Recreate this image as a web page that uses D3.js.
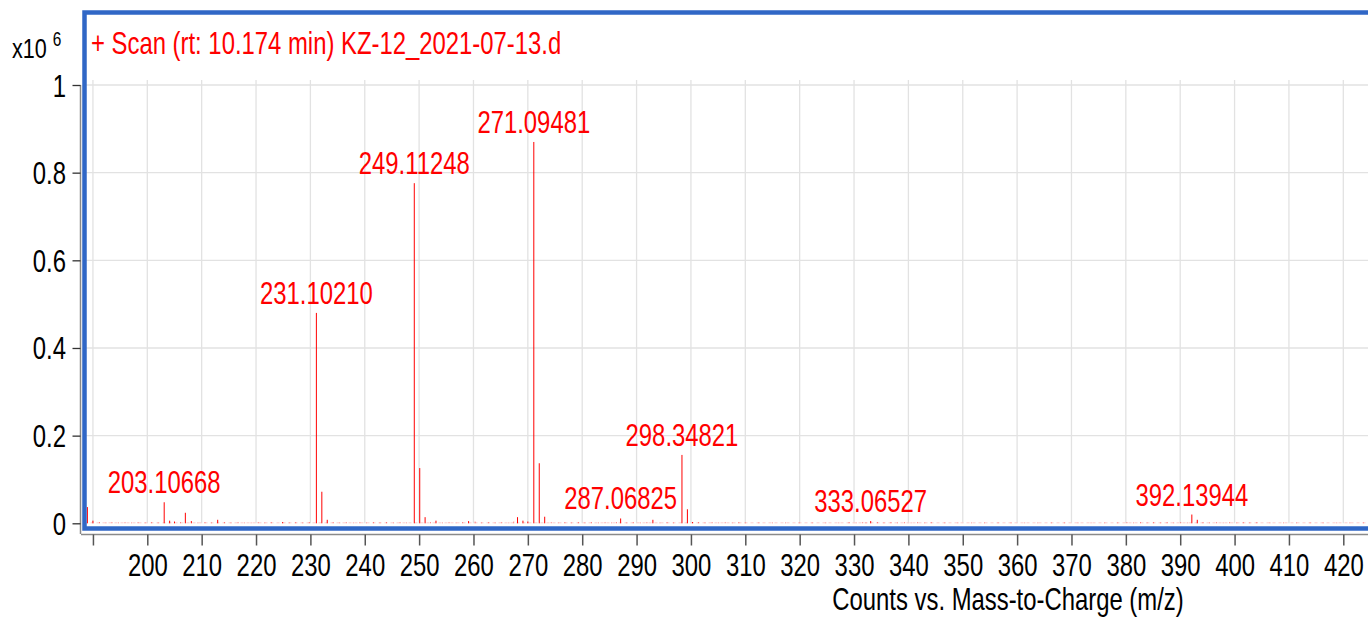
<!DOCTYPE html>
<html>
<head>
<meta charset="utf-8">
<script src="https://cdn.jsdelivr.net/npm/d3@7"></script>
<style>
  html, body { margin: 0; padding: 0; background: #fff; }
  svg { display: block; }
  text { font-family: "Liberation Sans", Arial, sans-serif; }
</style>
</head>
<body>
<svg id="chart" width="1368" height="618"></svg>
<script>
// Mass spectrum: m/z positions and intensities (counts x10^6)
const peakMz = [188.98, 190.0, 203.107, 204.11, 205.0, 207.0, 208.1, 212.95, 224.9,
  231.1021, 232.105, 233.1, 249.11248, 250.115, 251.1, 253.1, 259.1, 268.1, 269.1, 270.0,
  271.09481, 272.098, 273.1, 287.06825, 293.0, 298.34821, 299.35, 300.3, 333.06527,
  392.13944, 393.14];
const peakIntensity = [0.037, 0.006, 0.048, 0.006, 0.004, 0.024, 0.005, 0.008, 0.003,
  0.480, 0.072, 0.008, 0.776, 0.126, 0.014, 0.006, 0.005, 0.014, 0.006, 0.004,
  0.870, 0.137, 0.015, 0.011, 0.008, 0.156, 0.032, 0.003, 0.005,
  0.020, 0.008];

// Low-level baseline signals
const noiseMz = [191.2, 192.4, 193.5, 194.7, 195.9, 197.1, 198.3, 199.6, 200.8, 202.0,
  206.1, 209.3, 210.6, 211.8, 214.2, 215.4, 216.7, 217.9, 219.1, 220.4, 221.6, 222.8,
  226.1, 227.3, 228.6, 229.8, 234.2, 235.4, 236.6, 237.9, 239.1, 240.3, 241.6, 242.8,
  244.0, 245.3, 246.5, 247.7, 252.1, 254.3, 255.5, 256.8, 258.0, 260.3, 261.5, 262.8,
  264.0, 265.2, 266.5, 267.4, 274.3, 275.6, 276.8, 278.0, 279.3, 280.5, 281.7, 283.0,
  284.2, 285.4, 286.3, 288.2, 289.4, 290.7, 291.9, 294.3, 295.6, 296.8, 301.4, 302.6,
  303.9, 305.1, 306.3, 307.6, 308.8, 310.0, 312.5, 315.0, 317.4, 319.9, 322.3, 324.8,
  327.2, 329.1, 330.4, 331.6, 332.2, 334.3, 335.5, 336.8, 338.0, 339.3, 340.5, 341.7,
  343.0, 344.2, 346.7, 349.1, 351.6, 354.0, 356.5, 358.9, 361.4, 363.8, 366.3, 368.7,
  371.2, 373.6, 376.1, 378.5, 380.2, 381.4, 382.7, 383.9, 385.1, 386.4, 387.6, 388.8,
  390.1, 391.3, 394.2, 395.4, 396.7, 397.9, 399.1, 400.4, 401.6, 402.8, 404.1, 406.5,
  409.0, 411.4, 413.9, 416.3, 418.8, 421.2, 423.7];
const noiseIntensity = [0.003, 0.002, 0.003, 0.002, 0.003, 0.002, 0.003, 0.002, 0.003, 0.002,
  0.003, 0.002, 0.003, 0.002, 0.003, 0.002, 0.003, 0.002, 0.002, 0.003, 0.002, 0.003,
  0.002, 0.003, 0.002, 0.003, 0.003, 0.002, 0.003, 0.002, 0.003, 0.002, 0.003, 0.002,
  0.003, 0.002, 0.003, 0.002, 0.003, 0.002, 0.003, 0.002, 0.003, 0.004, 0.002, 0.003,
  0.002, 0.003, 0.002, 0.004, 0.003, 0.002, 0.003, 0.002, 0.003, 0.002, 0.003, 0.002,
  0.003, 0.002, 0.003, 0.002, 0.003, 0.002, 0.003, 0.002, 0.003, 0.002, 0.003, 0.002,
  0.003, 0.002, 0.003, 0.002, 0.003, 0.002, 0.002, 0.002, 0.002, 0.002, 0.002, 0.002,
  0.002, 0.003, 0.002, 0.003, 0.002, 0.003, 0.002, 0.003, 0.002, 0.003, 0.002, 0.003,
  0.002, 0.003, 0.002, 0.002, 0.002, 0.002, 0.002, 0.002, 0.002, 0.002, 0.002, 0.002,
  0.002, 0.002, 0.002, 0.002, 0.003, 0.002, 0.003, 0.002, 0.003, 0.002, 0.003, 0.002,
  0.003, 0.002, 0.003, 0.002, 0.003, 0.002, 0.003, 0.002, 0.003, 0.002, 0.003, 0.002,
  0.002, 0.002, 0.002, 0.002, 0.002, 0.002, 0.002];

// Annotated peaks
const labelMz = [203.10668, 231.10210, 249.11248, 271.09481, 287.06825, 298.34821, 333.06527, 392.13944];
const labelText = ["203.10668", "231.10210", "249.11248", "271.09481", "287.06825", "298.34821", "333.06527", "392.13944"];

const xTickValues = [190, 200, 210, 220, 230, 240, 250, 260, 270, 280, 290, 300, 310, 320,
  330, 340, 350, 360, 370, 380, 390, 400, 410, 420];
const yTickValues = [0, 0.2, 0.4, 0.6, 0.8, 1];
const yTickLabels = ["0", "0.2", "0.4", "0.6", "0.8", "1"];

const titleText = "+ Scan (rt: 10.174 min) KZ-12_2021-07-13.d";
const xAxisTitle = "Counts vs. Mass-to-Charge (m/z)";

// Condensed lettering: regular sans squeezed horizontally
const FS = 31, SX = 0.77;

const svg = d3.select("#chart");
const W = 1368;

const x = d3.scaleLinear().domain([200, 420]).range([147.3, 1343.3]);
const y = d3.scaleLinear().domain([0, 1]).range([523.3, 85]);

const plotLeft = 84.5, plotTop = 12.5, plotBottom = 528.5;

function squeezed(sel, px, py) {
  return sel.attr("x", 0).attr("y", 0)
    .attr("transform", `translate(${px},${py}) scale(${SX},1)`);
}

svg.append("defs").append("clipPath").attr("id", "plotClip")
  .append("rect").attr("x", plotLeft).attr("y", plotTop).attr("width", W - plotLeft + 10).attr("height", plotBottom - plotTop);

// grid
const grid = svg.append("g").attr("clip-path", "url(#plotClip)");
grid.selectAll("line.vg").data(xTickValues).join("line")
  .attr("x1", d => x(d)).attr("x2", d => x(d))
  .attr("y1", 80).attr("y2", y(0))
  .attr("stroke", "#e2e2e2").attr("stroke-width", 1.3);
grid.selectAll("line.hg").data(yTickValues.filter(d => d > 0)).join("line")
  .attr("x1", plotLeft).attr("x2", W + 10)
  .attr("y1", d => y(d)).attr("y2", d => y(d))
  .attr("stroke", "#e2e2e2").attr("stroke-width", 1.3);

// spectrum sticks
const sticks = svg.append("g").attr("clip-path", "url(#plotClip)");
sticks.append("line")
  .attr("x1", plotLeft).attr("x2", W + 10).attr("y1", y(0) - 0.5).attr("y2", y(0) - 0.5)
  .attr("stroke", "#ffcfcf").attr("stroke-width", 1).attr("stroke-dasharray", "3,3");
sticks.selectAll("line.noise").data(noiseMz.map((m, i) => [m, noiseIntensity[i]])).join("line")
  .attr("x1", d => x(d[0])).attr("x2", d => x(d[0]))
  .attr("y1", y(0)).attr("y2", d => y(d[1]))
  .attr("stroke", "#ff0000").attr("stroke-opacity", 0.45).attr("stroke-width", 1);
sticks.selectAll("line.peak").data(peakMz.map((m, i) => [m, peakIntensity[i]])).join("line")
  .attr("x1", d => x(d[0])).attr("x2", d => x(d[0]))
  .attr("y1", y(0)).attr("y2", d => y(d[1]))
  .attr("stroke", "#ff0000").attr("stroke-width", 1);

// peak labels
const labelData = labelMz.map((m, i) => {
  const j = peakMz.findIndex(p => Math.abs(p - m) < 0.01);
  return { mz: m, text: labelText[i], v: peakIntensity[j] };
});
svg.append("g").selectAll("text").data(labelData).join("text")
  .each(function (d) { squeezed(d3.select(this), x(d.mz), y(d.v) - 9); })
  .attr("text-anchor", "middle")
  .attr("fill", "#ff0000").attr("font-size", FS)
  .text(d => d.text);

// frame
svg.append("rect")
  .attr("x", plotLeft).attr("y", plotTop)
  .attr("width", W + 20 - plotLeft).attr("height", plotBottom - plotTop)
  .attr("fill", "none").attr("stroke", "#3067c6").attr("stroke-width", 4.5);

// title
squeezed(svg.append("text"), 91, 54)
  .attr("fill", "#ff0000").attr("font-size", FS).text(titleText);

// x axis
const xAxis = d3.axisBottom(x).tickValues(xTickValues)
  .tickFormat(d => d === 190 ? "" : d3.format("d")(d))
  .tickSizeInner(11).tickSizeOuter(0).tickPadding(8);
const gx = svg.append("g").attr("transform", "translate(0,534.5)").call(xAxis);
gx.select(".domain").attr("d", `M81,0H${W}`).attr("stroke", "#8a8a8a").attr("stroke-width", 1.5);
gx.selectAll(".tick line").attr("stroke", "#555").attr("stroke-width", 1.5);
gx.selectAll(".tick text").attr("font-size", FS).attr("fill", "#000")
  .attr("font-family", null).attr("dy", null)
  .attr("y", 41.5).attr("transform", `scale(${SX},1)`);

// y axis
const yAxis = d3.axisLeft(y).tickValues(yTickValues)
  .tickFormat((d, i) => yTickLabels[i])
  .tickSizeInner(8).tickSizeOuter(0).tickPadding(5);
const gy = svg.append("g").attr("transform", "translate(80.5,0)").call(yAxis);
gy.select(".domain").attr("d", `M0,${y(1)}V534`).attr("stroke", "#8a8a8a").attr("stroke-width", 1.5);
gy.selectAll(".tick line").attr("stroke", "#333").attr("stroke-width", 1.3);
gy.selectAll(".tick text").attr("font-size", FS).attr("fill", "#000")
  .attr("font-family", null).attr("dy", null)
  .attr("x", -14.5 / SX).attr("y", 11).attr("transform", `scale(${SX},1)`);

// multiplier
const mult = squeezed(svg.append("text"), 12, 58).attr("font-size", 28).attr("fill", "#000");
mult.append("tspan").text("x10 ");
mult.append("tspan").attr("font-size", 20).attr("dy", -12).text("6");

// x axis title
squeezed(svg.append("text"), 1008, 610).attr("text-anchor", "middle")
  .attr("font-size", FS).attr("fill", "#000").text(xAxisTitle);
</script>
</body>
</html>
